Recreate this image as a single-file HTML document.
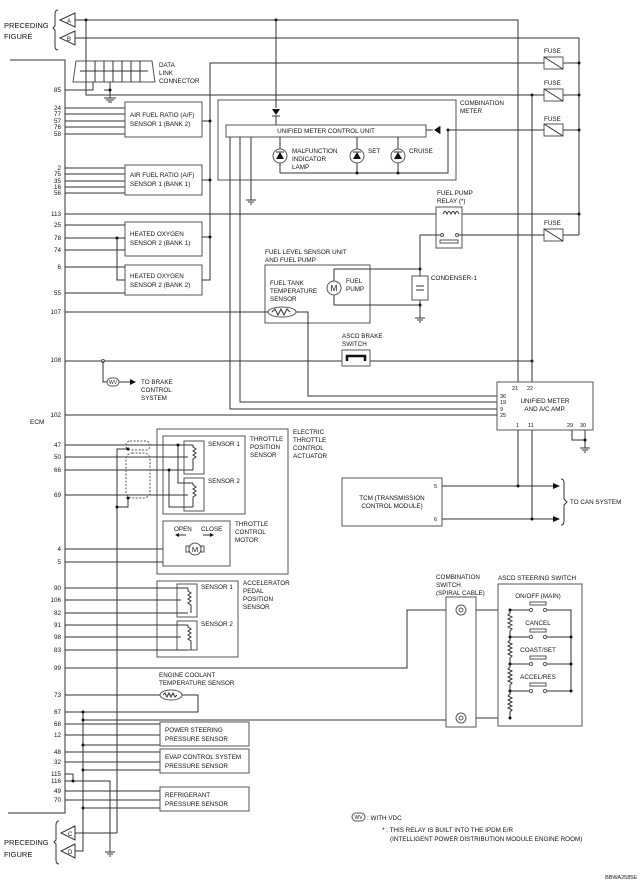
<!DOCTYPE html>
<html><head><meta charset="utf-8"><style>
html,body{margin:0;padding:0;background:#fff}
svg{display:block}
text{font-family:"Liberation Sans",Arial,sans-serif;font-size:6.3px;fill:#111}
.l{fill:none;stroke:#333;stroke-width:1}
.g{fill:none;stroke:#777;stroke-width:1}
.b{fill:#fff;stroke:#555;stroke-width:1}
.d{fill:#111}
</style></head><body>
<svg width="641" height="888" viewBox="0 0 641 888" xmlns="http://www.w3.org/2000/svg">
<!-- preceding figure A B -->
<text x="4" y="28" style="font-size:7.5px">PRECEDING</text>
<text x="4" y="39" style="font-size:7.5px">FIGURE</text>
<path class="l" d="M58,10 Q55,10 55,14 L55,26 L53,28 L55,30 L55,46 Q55,50 58,50"/>
<path class="l" d="M75,13 L60,20 L75,27 Z M75,31 L60,38 L75,45 Z"/>
<text x="67" y="23" style="font-size:6px">A</text><text x="67" y="41" style="font-size:6px">B</text>
<path class="l" d="M75,20 H518 V382 M75,38 H579 V235"/>
<circle class="d" cx="86" cy="20" r="1.5"/><circle class="d" cx="276" cy="20" r="1.5"/>
<path class="l" d="M86,20 V62"/>
<!-- ECM -->
<path class="l" d="M10,60 H65 V813 H8"/>
<text x="30" y="424" style="font-size:6.5px">ECM</text>
<!-- DLC -->
<path class="b" d="M76,61 H152 L155,82 H73 Z"/>
<path class="l" d="M80,71 H148 M86,61V82 M95,61V82 M104,61V82 M113,61V82 M122,61V82 M131,61V82 M140,61V82"/>
<text x="159" y="67">DATA</text><text x="159" y="75">LINK</text><text x="159" y="83">CONNECTOR</text>
<path class="l" d="M65,90 H93 V82 M86,82 V95 H544 M110,82 V90 H104 M110,90 V98"/>
<circle class="d" cx="110" cy="90" r="1.5"/>
<path class="l" d="M104,98 H116 M106,100 H114 M108,102 H112"/>
<!-- pins text -->
<g style="font-size:6px" text-anchor="end">
<text x="61" y="92">85</text><text x="61" y="110">24</text><text x="61" y="116">77</text><text x="61" y="123">57</text><text x="61" y="129">76</text><text x="61" y="136">58</text>
<text x="61" y="170">2</text><text x="61" y="176">75</text><text x="61" y="183">35</text><text x="61" y="189">16</text><text x="61" y="195">56</text>
<text x="61" y="216">113</text><text x="61" y="227">25</text><text x="61" y="240">78</text><text x="61" y="252">74</text><text x="61" y="269">6</text><text x="61" y="295">55</text>
<text x="61" y="314">107</text><text x="61" y="362">108</text><text x="61" y="417">102</text>
<text x="61" y="447">47</text><text x="61" y="459">50</text><text x="61" y="472">66</text><text x="61" y="497">69</text><text x="61" y="551">4</text><text x="61" y="564">5</text>
<text x="61" y="590">90</text><text x="61" y="602">106</text><text x="61" y="615">82</text><text x="61" y="627">91</text><text x="61" y="639">98</text><text x="61" y="652">83</text><text x="61" y="670">99</text>
<text x="61" y="697">73</text><text x="61" y="714">67</text><text x="61" y="726">68</text><text x="61" y="737">12</text><text x="61" y="754">48</text><text x="61" y="764">32</text><text x="61" y="776">115</text><text x="61" y="783">116</text><text x="61" y="793">49</text><text x="61" y="802">70</text>
</g>
<!-- A/F sensors -->
<path class="l" d="M65,108H125 M65,114H125 M65,121H125 M65,127H125 M65,134H125 M65,168H125 M65,174H125 M65,181H125 M65,187H125 M65,193H125"/>
<rect class="b" x="125" y="102" width="77" height="35"/><text x="130" y="117">AIR FUEL RATIO (A/F)</text><text x="130" y="126">SENSOR 1 (BANK 2)</text>
<rect class="b" x="125" y="165" width="77" height="30"/><text x="130" y="177">AIR FUEL RATIO (A/F)</text><text x="130" y="186">SENSOR 1 (BANK 1)</text>
<rect class="b" x="125" y="222" width="77" height="34"/><text x="130" y="236">HEATED OXYGEN</text><text x="130" y="245">SENSOR 2 (BANK 1)</text>
<rect class="b" x="125" y="265" width="77" height="30"/><text x="130" y="278">HEATED OXYGEN</text><text x="130" y="287">SENSOR 2 (BANK 2)</text>
<path class="l" d="M65,214H438 M462,214H579 M65,225H125 M65,238H125 M65,250H125 M65,267H125 M65,293H125 M117,238V280H125"/>
<circle class="d" cx="117" cy="238" r="1.5"/>
<path class="l" d="M202,121H210 M202,180H210 M202,237H210 M202,280H210 V63 H544 M563,63H579 V38"/>
<circle class="d" cx="210" cy="121" r="1.5"/><circle class="d" cx="210" cy="180" r="1.5"/><circle class="d" cx="210" cy="237" r="1.5"/>
<circle class="d" cx="579" cy="63" r="1.5"/><circle class="d" cx="579" cy="95" r="1.5"/><circle class="d" cx="579" cy="130" r="1.5"/><circle class="d" cx="579" cy="214" r="1.5"/>
<!-- fuses -->
<g>
<rect class="b" x="544" y="57" width="19" height="12"/><path class="l" d="M544,57L563,69"/><text x="544" y="53">FUSE</text>
<rect class="b" x="544" y="89" width="19" height="12"/><path class="l" d="M544,89L563,101"/><text x="544" y="85">FUSE</text>
<rect class="b" x="544" y="124" width="19" height="12"/><path class="l" d="M544,124L563,136"/><text x="544" y="121">FUSE</text>
<rect class="b" x="544" y="229" width="19" height="12"/><path class="l" d="M544,229L563,241"/><text x="544" y="225">FUSE</text>
</g>
<path class="l" d="M563,95H579 M563,130H579 M563,235H579"/>
<!-- combination meter -->
<rect class="b" x="218" y="100" width="238" height="80"/>
<text x="460" y="105">COMBINATION</text><text x="460" y="113">METER</text>
<path class="l" d="M276,20V108"/><path class="d" d="M272,109H280L276,115Z"/><path class="l" d="M272,116H280 M276,116V125"/>
<rect class="b" x="226" y="125" width="200" height="12"/>
<text x="326" y="133" text-anchor="middle">UNIFIED METER CONTROL UNIT</text>
<path class="l" d="M426,130H433 M440,126V134 M448,130H544"/><path class="d" d="M434,130L440,126V134Z"/><circle class="d" cx="448" cy="130" r="1.5"/>
<path class="l" d="M448,130V173H280 M280,137V173 M357,137V173 M398,137V173"/>
<circle class="d" cx="357" cy="173" r="1.5"/><circle class="d" cx="398" cy="173" r="1.5"/>
<g><circle class="b" cx="280" cy="156" r="7"/><path class="d" d="M280,152L276,159H284Z"/><path class="l" d="M276,152H284"/>
<circle class="b" cx="357" cy="156" r="7"/><path class="d" d="M357,152L353,159H361Z"/><path class="l" d="M353,152H361"/>
<circle class="b" cx="398" cy="156" r="7"/><path class="d" d="M398,152L394,159H402Z"/><path class="l" d="M394,152H402"/></g>
<text x="292" y="153">MALFUNCTION</text><text x="292" y="161">INDICATOR</text><text x="292" y="169">LAMP</text>
<text x="368" y="153">SET</text><text x="409" y="153">CRUISE</text>
<path class="l" d="M251,137V200 M246,200H256 M248,202H254 M250,204H252"/>
<path class="l" d="M230,137V409H497 M240,137V402H497"/>
<!-- relay -->
<text x="437" y="195">FUEL PUMP</text><text x="437" y="203">RELAY (*)</text>
<rect class="b" x="436" y="207" width="26" height="41"/>
<path class="l" d="M443,214 q2,-5 4,0 q2,-5 4,0 q2,-5 4,0 q2,-5 4,0"/>
<circle class="b" cx="442" cy="235" r="1.5"/><circle class="b" cx="457" cy="235" r="1.5"/>
<rect class="b" x="440" y="240" width="18" height="3"/>
<path class="l" d="M440,235H420V318 M458,235H544"/>
<circle class="d" cx="420" cy="269" r="1.5"/><circle class="d" cx="420" cy="305" r="1.5"/>
<rect class="b" x="412" y="276" width="16" height="24"/><path class="l" d="M416,286H424 M416,290H424"/>
<text x="431" y="280">CONDENSER-1</text>
<path class="l" d="M415,318H425 M417,320H423 M419,322H421"/>
<!-- fuel level -->
<text x="265" y="254">FUEL LEVEL SENSOR UNIT</text><text x="265" y="262">AND FUEL PUMP</text>
<rect class="b" x="265" y="265" width="105" height="58"/>
<text x="270" y="285">FUEL TANK</text><text x="270" y="293">TEMPERATURE</text><text x="270" y="301">SENSOR</text>
<text x="346" y="283">FUEL</text><text x="346" y="291">PUMP</text>
<path class="l" d="M334,281V269H420 M334,295V305H420"/>
<circle class="b" cx="334" cy="288" r="7"/><text x="334" y="291" text-anchor="middle" style="font-size:8px">M</text>
<ellipse class="b" cx="282" cy="312" rx="14" ry="5"/><path class="l" d="M272,312l3,-3 3,6 3,-6 3,6 3,-6 3,3"/>
<path class="l" d="M65,312H268 M296,312H308V396H497"/>
<!-- brake switch -->
<text x="342" y="338">ASCD BRAKE</text><text x="342" y="346">SWITCH</text>
<rect class="b" x="342" y="350" width="28" height="16"/>
<path style="fill:none;stroke:#111;stroke-width:2.5" d="M347,361V356H365V361"/>
<path class="l" d="M65,361H342 M370,361H532"/>
<circle class="d" cx="532" cy="361" r="1.5"/><circle class="d" cx="532" cy="95" r="1.5"/>
<path class="l" d="M532,95V382"/>
<circle class="b" cx="103" cy="361" r="1.5"/>
<path class="l" d="M103,361V382H108 M117,382H130"/><path class="d" d="M130,379L136,382L130,385Z"/>
<rect class="b" x="107" y="378" width="12" height="8" rx="4"/><text x="113" y="384" text-anchor="middle" style="font-size:5px">WV</text>
<text x="141" y="384">TO BRAKE</text><text x="141" y="392">CONTROL</text><text x="141" y="400">SYSTEM</text>
<!-- AMP -->
<rect class="b" x="497" y="382" width="96" height="48"/>
<text x="512" y="390" style="font-size:5.5px">21</text><text x="527" y="390" style="font-size:5.5px">22</text>
<text x="500" y="398" style="font-size:5.5px">36</text><text x="500" y="404" style="font-size:5.5px">19</text><text x="500" y="411" style="font-size:5.5px">9</text><text x="500" y="417" style="font-size:5.5px">25</text>
<text x="545" y="403" text-anchor="middle">UNIFIED METER</text><text x="545" y="411" text-anchor="middle">AND A/C AMP.</text>
<text x="516" y="427" style="font-size:5.5px">1</text><text x="528" y="427" style="font-size:5.5px">11</text><text x="567" y="427" style="font-size:5.5px">29</text><text x="580" y="427" style="font-size:5.5px">30</text>
<path class="l" d="M65,415H497 M518,430V486 M532,430V519 M572,430V440H585 M585,430V448 M580,448H590 M582,450H588 M584,452H586"/>
<circle class="d" cx="585" cy="440" r="1.5"/>
<!-- TCM -->
<rect class="b" x="342" y="478" width="100" height="48"/>
<text x="392" y="500" text-anchor="middle">TCM (TRANSMISSION</text><text x="392" y="508" text-anchor="middle">CONTROL MODULE)</text>
<text x="434" y="488" style="font-size:5.5px">5</text><text x="434" y="521" style="font-size:5.5px">6</text>
<path class="l" d="M442,486H553 M442,519H553"/>
<path class="d" d="M553,483L560,486L553,489Z M553,516L560,519L553,522Z"/>
<circle class="d" cx="518" cy="486" r="1.5"/><circle class="d" cx="532" cy="519" r="1.5"/>
<path class="l" d="M561,479 Q564,479 564,483 V499 L567,502 L564,505 V521 Q564,525 561,525"/>
<text x="570" y="504">TO CAN SYSTEM</text>
<!-- ETC -->
<rect class="b" x="157" y="429" width="131" height="145"/>
<text x="293" y="434">ELECTRIC</text><text x="293" y="442">THROTTLE</text><text x="293" y="450">CONTROL</text><text x="293" y="458">ACTUATOR</text>
<rect class="b" x="163" y="436" width="82" height="78"/>
<text x="250" y="441">THROTTLE</text><text x="250" y="449">POSITION</text><text x="250" y="457">SENSOR</text>
<rect class="b" x="184" y="441" width="20" height="33"/><rect class="b" x="184" y="478" width="20" height="33"/>
<text x="208" y="446">SENSOR 1</text><text x="208" y="483">SENSOR 2</text>
<path class="l" d="M65,445H178V483H193 M178,445H193 M65,457H188 M65,470H169V507H193 M169,470H193 M65,495H188 M65,549H185 M203,549H226V562H65"/>
<circle class="d" cx="178" cy="445" r="1.5"/><circle class="d" cx="169" cy="470" r="1.5"/>
<path class="l" d="M193,445V447l3,2 -3,2 3,2 -3,2 3,2 -3,2V470 M193,483V485l3,2 -3,2 3,2 -3,2 3,2 -3,2V507"/>
<rect style="fill:none;stroke:#555;stroke-dasharray:2,1.5" x="126" y="441" width="24" height="9" rx="4"/>
<rect style="fill:none;stroke:#555;stroke-dasharray:2,1.5" x="126" y="453" width="24" height="45" rx="6"/>
<path class="l" d="M128,449H117V833 M128,498V507H117"/>
<circle class="d" cx="128" cy="449" r="1.5"/><circle class="d" cx="128" cy="498" r="1.5"/><circle class="d" cx="117" cy="507" r="1.5"/>
<rect class="b" x="163" y="521" width="67" height="45"/>
<text x="174" y="531">OPEN</text><text x="201" y="531">CLOSE</text>
<path class="l" d="M178,535H186 M203,535H211"/><path class="d" d="M175,535L179,533V537Z M214,535L210,533V537Z"/>
<text x="235" y="526">THROTTLE</text><text x="235" y="534">CONTROL</text><text x="235" y="542">MOTOR</text>
<circle class="b" cx="195" cy="549" r="6"/><rect class="b" x="186" y="546" width="3" height="6"/><rect class="b" x="201" y="546" width="3" height="6"/>
<text x="195" y="552" text-anchor="middle" style="font-size:7.5px">M</text>
<!-- APPS -->
<rect class="b" x="157" y="581" width="81" height="76"/>
<text x="243" y="585">ACCELERATOR</text><text x="243" y="593">PEDAL</text><text x="243" y="601">POSITION</text><text x="243" y="609">SENSOR</text>
<rect class="b" x="177" y="584" width="20" height="33"/><rect class="b" x="177" y="621" width="20" height="29"/>
<text x="201" y="589">SENSOR 1</text><text x="201" y="626">SENSOR 2</text>
<path class="l" d="M65,588H188 M65,600H181 M65,613H188 M65,625H188 M65,637H181 M65,650H188"/>
<path class="l" d="M188,588V591l3,2 -3,2 3,2 -3,2 3,2 -3,2 3,2V613 M188,625V627l3,2 -3,2 3,2 -3,2 3,2 -3,2 3,2V650"/>
<!-- 99 -> switch -->
<path class="l" d="M65,668H407V610H454 M468,610H510 M83,720H454 M468,718H510"/>
<rect class="b" x="446" y="597" width="30" height="130"/>
<circle class="b" cx="461" cy="610" r="5"/><circle class="b" cx="461" cy="610" r="2"/>
<circle class="b" cx="461" cy="718" r="5"/><circle class="b" cx="461" cy="718" r="2"/>
<text x="436" y="579">COMBINATION</text><text x="436" y="587">SWITCH</text><text x="436" y="595">(SPIRAL CABLE)</text>
<text x="498" y="580">ASCD STEERING SWITCH</text>
<rect class="b" x="498" y="584" width="84" height="142"/>
<g class="l">
<path class="l" d="M510,610V613l-2,2 4,2 -4,2 4,2 -4,2 4,2 -4,2 4,2 -2,2V637 M510,637V640l-2,2 4,2 -4,2 4,2 -4,2 4,2 -4,2 4,2 -2,2V664 M510,664V667l-2,2 4,2 -4,2 4,2 -4,2 4,2 -4,2 4,2 -2,2V691 M510,691V694l-2,2 4,2 -4,2 4,2 -4,2 4,2 -4,2 4,2 -2,2V718"/>
</g>
<path class="l" d="M510,610H529 M547,610H571V691 M510,637H529 M547,637H571 M510,664H529 M547,664H571 M510,691H529 M547,691H571"/>
<g><circle class="b" cx="531" cy="610" r="1.6"/><circle class="b" cx="545" cy="610" r="1.6"/><circle class="b" cx="531" cy="637" r="1.6"/><circle class="b" cx="545" cy="637" r="1.6"/><circle class="b" cx="531" cy="664" r="1.6"/><circle class="b" cx="545" cy="664" r="1.6"/><circle class="b" cx="531" cy="691" r="1.6"/><circle class="b" cx="545" cy="691" r="1.6"/></g>
<rect class="b" x="530" y="602" width="16" height="3"/><rect class="b" x="530" y="629" width="16" height="3"/><rect class="b" x="530" y="656" width="16" height="3"/><rect class="b" x="530" y="683" width="16" height="3"/>
<text x="538" y="598" text-anchor="middle">ON/OFF (MAIN)</text><text x="538" y="625" text-anchor="middle">CANCEL</text><text x="538" y="652" text-anchor="middle">COAST/SET</text><text x="538" y="679" text-anchor="middle">ACCEL/RES</text>
<circle class="d" cx="510" cy="610" r="1.5"/><circle class="d" cx="510" cy="637" r="1.5"/><circle class="d" cx="510" cy="664" r="1.5"/><circle class="d" cx="510" cy="691" r="1.5"/><circle class="d" cx="510" cy="718" r="1.5"/>
<circle class="d" cx="571" cy="637" r="1.5"/><circle class="d" cx="571" cy="664" r="1.5"/><circle class="d" cx="571" cy="691" r="1.5"/>
<!-- bottom sensors -->
<text x="159" y="677">ENGINE COOLANT</text><text x="159" y="685">TEMPERATURE SENSOR</text>
<ellipse class="b" cx="171" cy="695" rx="11" ry="5"/><path class="l" d="M163,695l2,-2 2,4 2,-4 2,4 2,-4 2,4 2,-2"/>
<path class="l" d="M65,695H160 M182,695H198V712H65"/>
<path class="l" d="M83,712V851H75"/>
<circle class="d" cx="83" cy="712" r="1.5"/><circle class="d" cx="83" cy="720" r="1.5"/><circle class="d" cx="83" cy="745" r="1.5"/><circle class="d" cx="83" cy="770" r="1.5"/><circle class="d" cx="83" cy="808" r="1.5"/>
<path class="l" d="M65,724H160 M65,735H160 M83,745H160 M65,752H160 M65,762H160 M83,770H160 M65,774H73V781 M65,781H110V852 M65,791H160 M65,800H160 M83,808H160"/>
<circle class="d" cx="73" cy="781" r="1.5"/>
<path class="l" d="M105,852H115 M107,854H113 M109,856H111"/>
<rect class="b" x="160" y="722" width="89" height="24"/><text x="165" y="732">POWER STEERING</text><text x="165" y="741">PRESSURE SENSOR</text>
<rect class="b" x="160" y="749" width="89" height="24"/><text x="165" y="759">EVAP CONTROL SYSTEM</text><text x="165" y="768">PRESSURE SENSOR</text>
<rect class="b" x="160" y="787" width="89" height="24"/><text x="165" y="797">REFRIGERANT</text><text x="165" y="806">PRESSURE SENSOR</text>
<!-- preceding C D -->
<text x="4" y="845" style="font-size:7.5px">PRECEDING</text>
<text x="4" y="857" style="font-size:7.5px">FIGURE</text>
<path class="l" d="M59,821 Q56,821 56,825 L56,840 L54,842 L56,844 L56,860 Q56,864 59,864"/>
<path class="l" d="M75,826 L61,833 L75,840 Z M75,844 L61,851 L75,858 Z"/>
<text x="68" y="836" style="font-size:6px">C</text><text x="68" y="854" style="font-size:6px">D</text>
<path class="l" d="M75,833H117"/>
<!-- legend -->
<rect class="b" x="352" y="813" width="13" height="8" rx="4"/><text x="358.5" y="819" text-anchor="middle" style="font-size:5px">WV</text>
<text x="367" y="820">: WITH VDC</text>
<text x="382" y="832">* : THIS RELAY IS BUILT INTO THE IPDM E/R</text>
<text x="390" y="841">(INTELLIGENT POWER DISTRIBUTION MODULE ENGINE ROOM)</text>
<text x="637" y="879" text-anchor="end" style="font-size:5.5px">BBWA2585E</text>
</svg>
</body></html>
